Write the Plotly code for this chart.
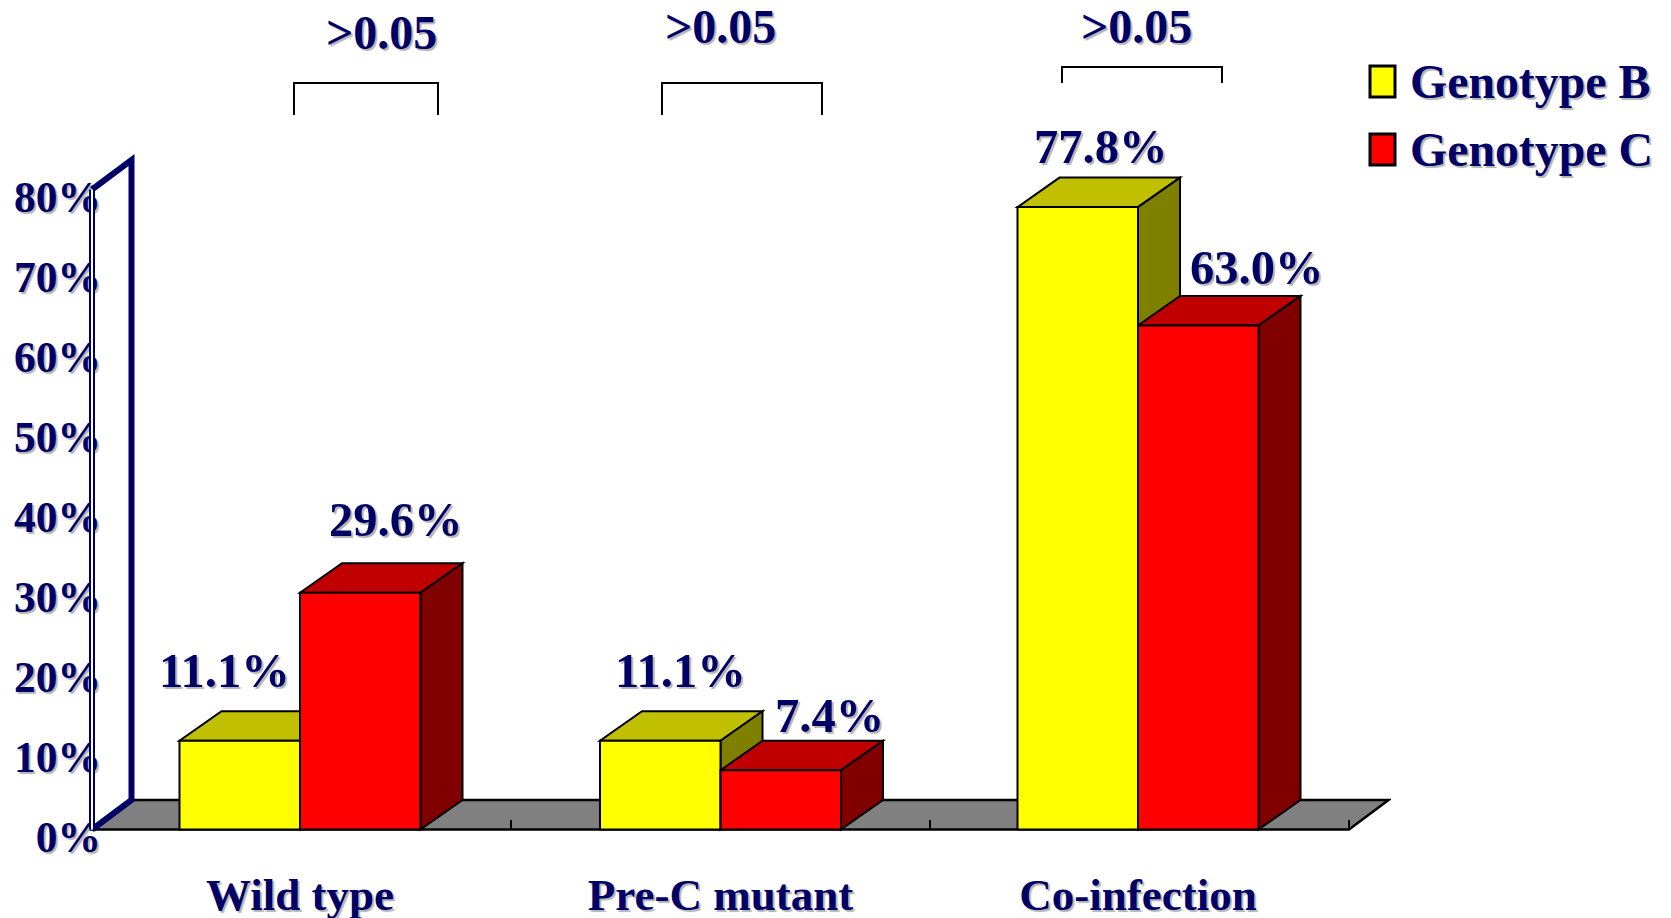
import plotly.graph_objects as go

CATEGORIES = ["Wild type", "Pre-C mutant", "Co-infection"]
GENOTYPE_B = [11.1, 11.1, 77.8]
GENOTYPE_C = [29.6, 7.4, 63.0]
P_VALUES = [">0.05", ">0.05", ">0.05"]
Y_TICKS = [0, 10, 20, 30, 40, 50, 60, 70, 80]

# page geometry (pixels)
W, H = 1671, 918
ML, MR, MT, MB = 40, 280, 110, 50          # plot area is smaller than the page
PW, PH = W - ML - MR, H - MT - MB
X0_PX, CAT_PX = 92, 419.0
Y0_PX, UNIT_PX = 829.5, 8.0
BAR_W = 120.5 / CAT_PX
DX, DY = 42 / CAT_PX, 29.5 / UNIT_PX
FLOOR_DX = 39.5 / CAT_PX
NAVY = "#000066"
FAMILY = "Liberation Serif"
SHADOW = "2px 2px 1px #b4b4b4"


def font(size):
    return dict(family=FAMILY, size=size, color=NAVY, weight=700, shadow=SHADOW)


def poly(pts, fill, width=2):
    path = "M" + "L".join(f"{x},{y}" for x, y in pts) + "Z"
    return dict(type="path", path=path, xref="x", yref="y", layer="below",
                fillcolor=fill, line=dict(color="black", width=width))


n = len(CATEGORIES)
CENTER_NUDGE = [-1.5 / CAT_PX, 0, -1.5 / CAT_PX]
centers = [i + 0.5 + CENTER_NUDGE[i] for i in range(n)]
x_b = [c - BAR_W / 2 for c in centers]
x_c = [c + BAR_W / 2 for c in centers]

shapes = []
# floor
shapes.append(poly([(0, 0), (n, 0), (n + FLOOR_DX, DY), (FLOOR_DX, DY)], "#808080", 2.5))


def faces(xc, v, top, side):
    l, r = xc - BAR_W / 2, xc + BAR_W / 2
    return [
        poly([(l, v), (r, v), (r + DX, v + DY), (l + DX, v + DY)], top),
        poly([(r, 0), (r + DX, DY), (r + DX, v + DY), (r, v)], side),
    ]


for i in range(n):
    shapes += faces(x_b[i], GENOTYPE_B[i], "#C0C000", "#808000")
    shapes += faces(x_c[i], GENOTYPE_C[i], "#C00000", "#800000")

# back-wall frame
ymax = Y_TICKS[-1]
wall = f"M0,0L{FLOOR_DX},{DY}L{FLOOR_DX},{ymax + DY}L0,{ymax}"
shapes.append(dict(type="path", path=wall, xref="x", yref="y", layer="above",
                   line=dict(color=NAVY, width=6)))
for col, wd in ((NAVY, 6), ("white", 2)):
    shapes.append(dict(type="line", x0=0, x1=0, y0=0, y1=ymax, xref="x", yref="y",
                       layer="above", line=dict(color=col, width=wd)))


def px(x):
    return (x - ML) / PW


def py(y):
    return 1 - (y - MT) / PH


# significance brackets
for (l, r, t, b) in [(294, 438, 83, 115), (662, 822, 83, 115), (1062, 1222, 67, 83)]:
    shapes.append(dict(type="path", xref="paper", yref="paper",
                       path=f"M{px(l)},{py(b)}L{px(l)},{py(t)}L{px(r)},{py(t)}L{px(r)},{py(b)}",
                       line=dict(color="black", width=2)))

# legend swatches
for (t, b, c) in [(66, 97, "#FFFF00"), (134, 165, "#FF0000")]:
    shapes.append(dict(type="rect", xref="paper", yref="paper", x0=px(1370), x1=px(1395),
                       y0=py(b), y1=py(t), fillcolor=c, line=dict(color="black", width=3)))

annotations = []
# value labels (offsets from the top of each front face)
LABEL_OFFSETS_B = [(-15, 70), (20, 70), (23, 61)]
LABEL_OFFSETS_C = [(35, 73), (49, 55), (58, 58)]
for xs, vals, offs in ((x_b, GENOTYPE_B, LABEL_OFFSETS_B), (x_c, GENOTYPE_C, LABEL_OFFSETS_C)):
    for x, v, (ox, oy) in zip(xs, vals, offs):
        annotations.append(dict(x=x, y=v, xref="x", yref="y", text=f"{v:.1f}%", showarrow=False,
                                xshift=ox, yshift=oy, font=font(48.5),
                                xanchor="center", yanchor="middle"))

for text, (cx, cy) in zip(P_VALUES, [(381.5, 33), (720, 27), (1136, 27)]):
    annotations.append(dict(x=px(cx), y=py(cy), xref="paper", yref="paper", text=text,
                            showarrow=False, font=font(48), xanchor="center", yanchor="middle"))

for name, cy in (("Genotype B", 82), ("Genotype C", 149)):
    annotations.append(dict(x=px(1408), y=py(cy), xref="paper", yref="paper", text=name,
                            showarrow=False, font=font(47.8), xanchor="left", yanchor="middle"))

fig = go.Figure()
fig.add_bar(name="Genotype B", x=x_b, y=GENOTYPE_B, width=BAR_W,
            marker=dict(color="#FFFF00", line=dict(color="black", width=2)))
fig.add_bar(name="Genotype C", x=x_c, y=GENOTYPE_C, width=BAR_W,
            marker=dict(color="#FF0000", line=dict(color="black", width=2)))

fig.update_layout(
    width=W, height=H, margin=dict(l=ML, r=MR, t=MT, b=MB),
    paper_bgcolor="white", plot_bgcolor="white",
    barmode="overlay", showlegend=False, hovermode=False,
    shapes=shapes, annotations=annotations,
    xaxis=dict(
        automargin=False,
        range=[(ML - X0_PX) / CAT_PX, (ML + PW - X0_PX) / CAT_PX], domain=[0, 1],
        anchor="free", position=(H - MB - Y0_PX) / PH,
        showgrid=False, zeroline=False, showline=False,
        tickmode="array", tickvals=centers, ticktext=CATEGORIES,
        ticks="", tickfont=font(45), ticklabelstandoff=34,
        minor=dict(tickmode="array", tickvals=list(range(n + 1)), ticks="inside",
                   ticklen=10, tickwidth=1.5, tickcolor="black", showgrid=False),
    ),
    yaxis=dict(
        automargin=False,
        range=[(Y0_PX - (H - MB)) / UNIT_PX, (Y0_PX - MT) / UNIT_PX], domain=[0, 1],
        anchor="free", position=(X0_PX - ML) / PW,
        showgrid=False, zeroline=False, showline=False,
        tickmode="array", tickvals=Y_TICKS, ticktext=[f"{t}%" for t in Y_TICKS],
        ticks="", tickfont=font(43.5), ticklabelstandoff=-9, ticklabelshift=7,
    ),
)

fig.write_html("out.html", config=dict(displayModeBar=False),
               post_script="document.body.style.margin='0';")
